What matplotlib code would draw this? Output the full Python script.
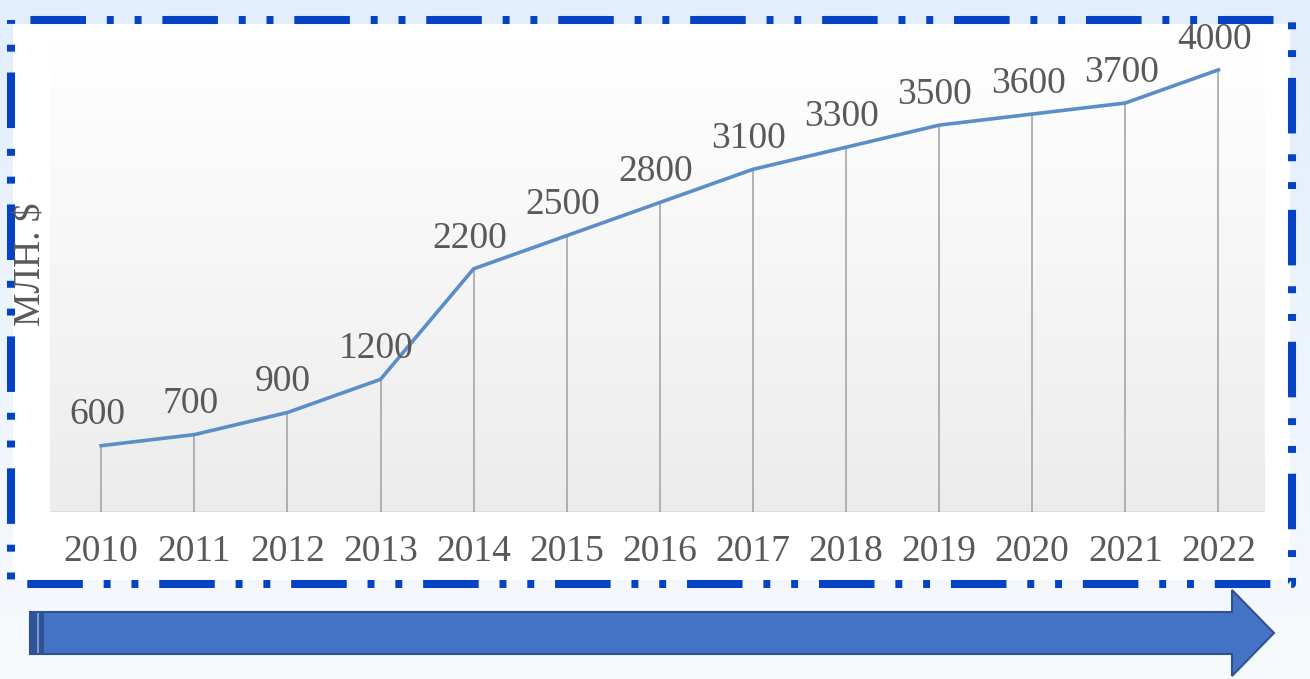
import numpy as np
import matplotlib.pyplot as plt
from matplotlib.colors import LinearSegmentedColormap
from matplotlib.patches import Rectangle, Polygon
from matplotlib.lines import Line2D

years = [2010, 2011, 2012, 2013, 2014, 2015, 2016, 2017, 2018, 2019, 2020, 2021, 2022]
values = [600, 700, 900, 1200, 2200, 2500, 2800, 3100, 3300, 3500, 3600, 3700, 4000]
y_label = 'МЛН. $'

plt.rcParams['font.family'] = ['Liberation Serif', 'DejaVu Serif']
plt.rcParams['lines.scale_dashes'] = False

W, H = 1310, 679
fig = plt.figure(figsize=(W / 100, H / 100), dpi=100)

# background, panel, frame and arrow in pixel coordinates
bg = fig.add_axes([0, 0, 1, 1])
bg.set_xlim(0, W)
bg.set_ylim(H, 0)
bg.axis('off')
grad = np.linspace(0, 1, 200)[:, None]
bg.imshow(grad, cmap=LinearSegmentedColormap.from_list('bg', ['#e2eefb', '#f7fafd']),
          extent=[0, W, H, 0], aspect='auto', zorder=0)
bg.add_patch(Rectangle((13, 24), 1277, 556, fc='white', ec='none', zorder=1))
frame = Line2D([11, 1292, 1292, 11, 11], [20, 20, 584, 584, 20], color='#0543c2',
               lw=5.8, linestyle=(81, (40, 15, 5, 15, 5, 15)), zorder=3)
bg.add_line(frame)

arrow = Polygon([(30, 612), (1232, 612), (1232, 590), (1274, 633),
                 (1232, 676), (1232, 654), (30, 654)],
                closed=True, fc='#4472c4', ec='#2f528f', lw=1.5, zorder=2)
bg.add_patch(arrow)
bg.add_patch(Rectangle((31, 613), 13, 40, fc='#2f5597', ec='none', zorder=3))
bg.add_patch(Rectangle((37, 613), 2, 40, fc='#7a9bd6', ec='none', zorder=4))

# chart
ax = fig.add_axes([50 / W, (H - 512) / H, 1215 / W, (512 - 40) / H])
ax.set_xlim(years[0] - 0.55, years[-1] + 0.5)
ax.set_ylim(0, 4270)
ax.imshow(grad, cmap=LinearSegmentedColormap.from_list('pa', ['#ececec', '#ffffff']),
          extent=[years[0] - 0.55, years[-1] + 0.5, 0, 4270], origin='lower',
          aspect='auto', zorder=0)
for s in ax.spines.values():
    s.set_visible(False)
ax.axhline(0, color='#d9d9d9', lw=2, zorder=1)
ax.vlines(years, 0, values, color='#a6a6a6', lw=1.2, zorder=2)
ax.plot(years, values, color='#5b8ec6', lw=2.6, solid_joinstyle='round', zorder=3)

for x, v in zip(years, values):
    ax.annotate(str(v), (x, v), xytext=(-3, 22), textcoords='offset points',
                ha='center', va='center', fontsize=27, color='#595959', zorder=4)

ax.set_xticks(years)
ax.set_xticklabels([str(y) for y in years], fontsize=27, color='#595959')
ax.set_yticks([])
ax.tick_params(axis='x', length=0, pad=16)

fig.text(30 / W, 1 - 264 / H, y_label, rotation=90, ha='center', va='center',
         fontsize=27, color='#595959')

fig.savefig('out.png', dpi=100)
